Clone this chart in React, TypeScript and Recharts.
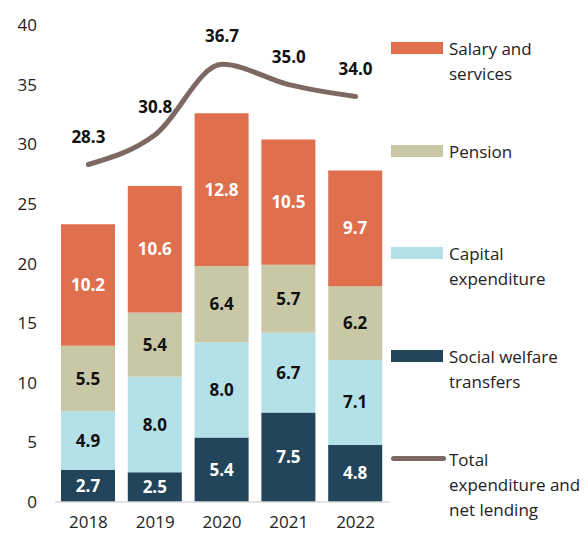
import React from 'react';
import { ComposedChart, Bar, Line, XAxis, YAxis, LabelList } from 'recharts';

const years = ['2018', '2019', '2020', '2021', '2022'];
const socialWelfare = [2.7, 2.5, 5.4, 7.5, 4.8];
const capitalExpenditure = [4.9, 8.0, 8.0, 6.7, 7.1];
const pension = [5.5, 5.4, 6.4, 5.7, 6.2];
const salaryServices = [10.2, 10.6, 12.8, 10.5, 9.7];
const totalExpenditure = [28.3, 30.8, 36.7, 35.0, 34.0];
const yTicks = [0, 5, 10, 15, 20, 25, 30, 35, 40];

const data = years.map((year, i) => ({
    year,
    social: socialWelfare[i],
    capital: capitalExpenditure[i],
    pension: pension[i],
    salary: salaryServices[i],
    total: totalExpenditure[i],
}));

const FONT = '"Open Sans", "Noto Sans", sans-serif';

const legendItems = [
    { label: ['Salary and', 'services'], color: '#E06F4E', type: 'bar', top: 36 },
    { label: ['Pension'], color: '#C9C8A6', type: 'bar', top: 139 },
    { label: ['Capital', 'expenditure'], color: '#B4E1E8', type: 'bar', top: 241 },
    { label: ['Social welfare', 'transfers'], color: '#23455B', type: 'bar', top: 344 },
    { label: ['Total', 'expenditure and', 'net lending'], color: '#7E6863', type: 'line', top: 447 },
];

const CustomLegend = () => (
    <div style={{ position: 'absolute', left: 391, top: 0, width: 193, height: 535 }}>
        {legendItems.map((item) => (
            <div key={item.label[0]} style={{ position: 'absolute', left: 0, top: item.top }}>
                {item.type === 'bar' ? (
                    <div style={{ position: 'absolute', left: 0, top: 6, width: 52, height: 12, background: item.color }} />
                ) : (
                    <div style={{ position: 'absolute', left: 0, top: 9, width: 55, height: 5, borderRadius: 3, background: item.color }} />
                )}
                <div style={{ position: 'absolute', left: 58, top: 0, fontSize: 17, lineHeight: '25px', color: '#222', whiteSpace: 'nowrap', fontFamily: FONT }}>
                    {item.label.map((l) => (
                        <div key={l}>{l}</div>
                    ))}
                </div>
            </div>
        ))}
    </div>
);

const labelStyle = (fill: string) => ({ fill, fontSize: 17, fontWeight: 700, fontFamily: FONT });
const fmt = (v: number) => v.toFixed(1);

export default function App() {
    return (
        <div style={{ position: 'absolute', left: 0, top: 0, width: 584, height: 535, background: '#fff' }}>
            <ComposedChart
                width={584}
                height={535}
                data={data}
                margin={{ top: 25, right: 195, bottom: 0, left: 0 }}
                barSize={54}
            >
                <XAxis
                    dataKey="year"
                    height={33}
                    tickLine={false}
                    axisLine={{ stroke: '#D9D9D9', strokeWidth: 1.5 }}
                    tick={{ fill: '#222', fontSize: 17, fontFamily: FONT }}
                    tickMargin={8}
                    interval={0}
                />
                <YAxis
                    width={55}
                    domain={[0, 40]}
                    ticks={yTicks}
                    axisLine={false}
                    tickLine={false}
                    tick={{ fill: '#222', fontSize: 17, fontFamily: FONT }}
                    tickMargin={12}
                />
                <Bar dataKey="social" stackId="a" fill="#23455B" isAnimationActive={false}>
                    <LabelList dataKey="social" position="center" style={labelStyle('#fff')} formatter={fmt} />
                </Bar>
                <Bar dataKey="capital" stackId="a" fill="#B4E1E8" isAnimationActive={false}>
                    <LabelList dataKey="capital" position="center" style={labelStyle('#111')} formatter={fmt} />
                </Bar>
                <Bar dataKey="pension" stackId="a" fill="#C9C8A6" isAnimationActive={false}>
                    <LabelList dataKey="pension" position="center" style={labelStyle('#111')} formatter={fmt} />
                </Bar>
                <Bar dataKey="salary" stackId="a" fill="#E06F4E" isAnimationActive={false}>
                    <LabelList dataKey="salary" position="center" style={labelStyle('#fff')} formatter={fmt} />
                </Bar>
                <Line
                    dataKey="total"
                    type="monotone"
                    stroke="#7E6863"
                    strokeWidth={5}
                    strokeLinecap="round"
                    dot={false}
                    isAnimationActive={false}
                >
                    <LabelList dataKey="total" position="top" offset={22} style={labelStyle('#111')} formatter={fmt} />
                </Line>
            </ComposedChart>
            <CustomLegend />
        </div>
    );
}
